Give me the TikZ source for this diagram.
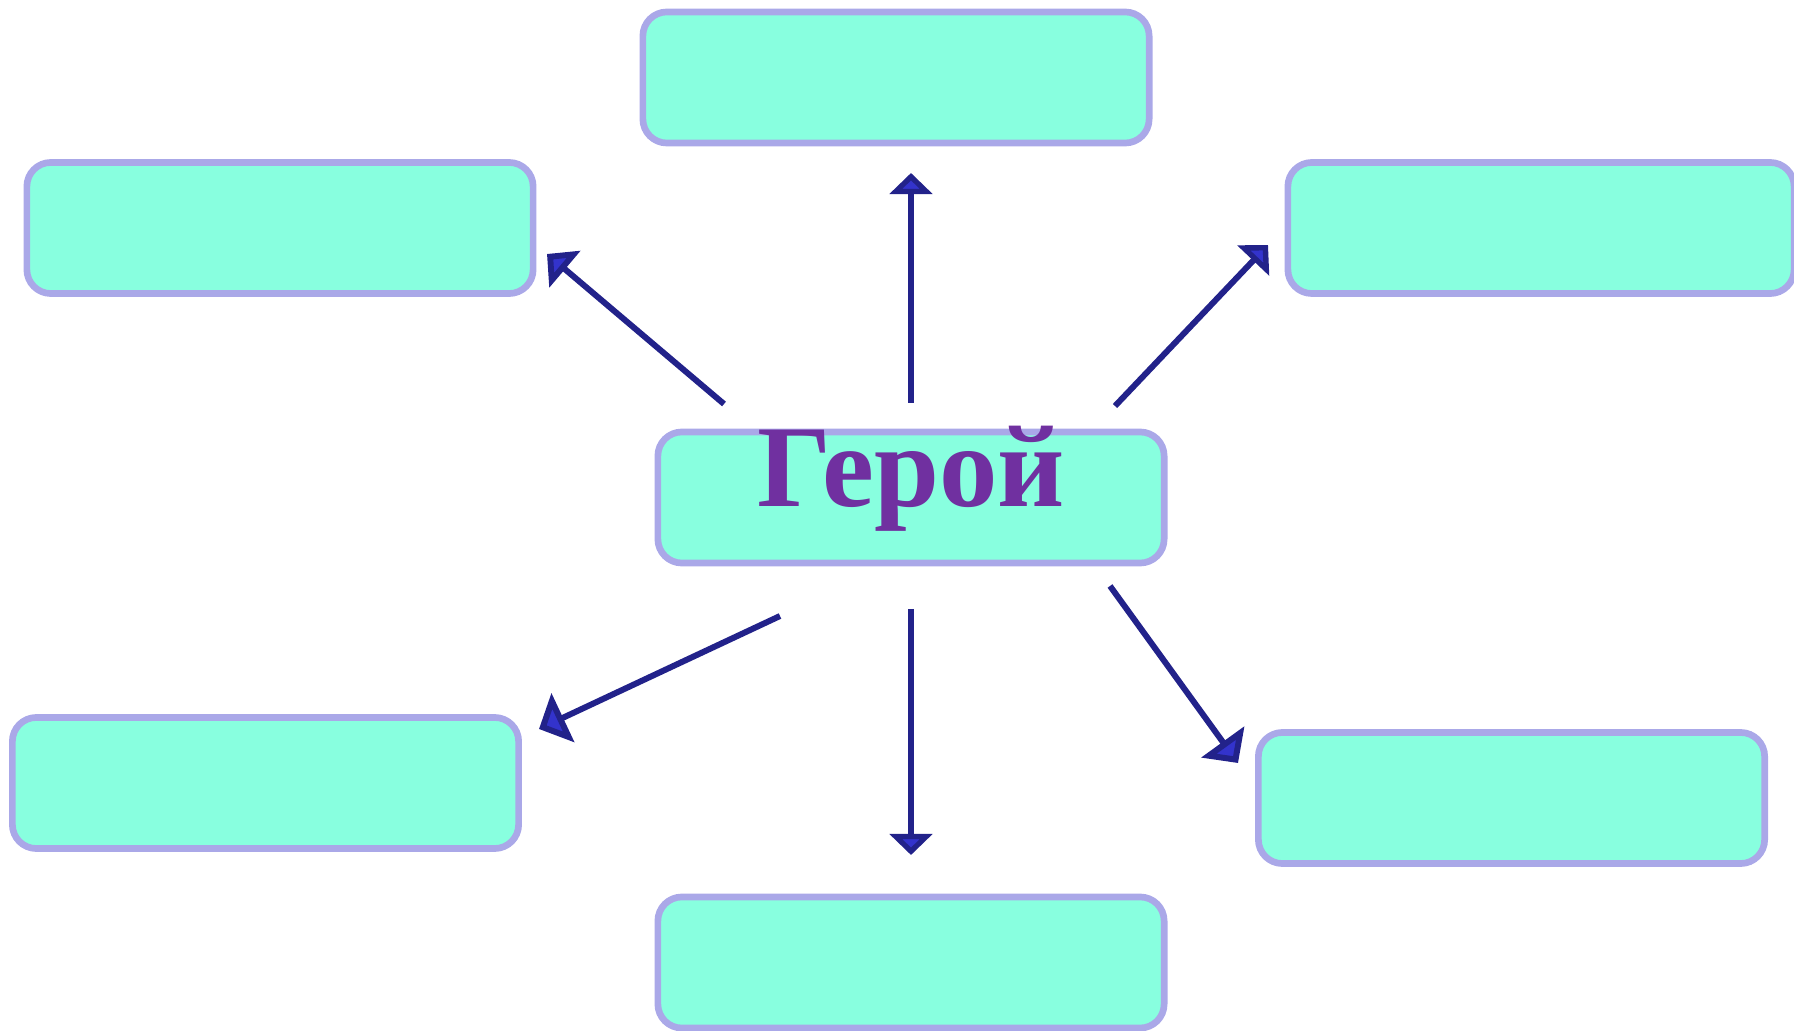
\documentclass[tikz,border=0pt]{standalone}
\usepackage{fontspec}
\setmainfont{Liberation Serif}
\usetikzlibrary{arrows.meta}
\definecolor{boxfill}{HTML}{88FFDF}
\definecolor{boxborder}{HTML}{AAA8E8}
\definecolor{txt}{HTML}{7030A0}
\definecolor{arrline}{HTML}{22228A}
\definecolor{tipfill}{HTML}{3333CC}
\tikzset{
  box/.style={draw=boxborder, line width=1.9pt, fill=boxfill, rounded corners=0.24cm,
    minimum width=5.06cm, minimum height=1.31cm, inner sep=0pt},
  conn/.style={draw=arrline, line width=1.7pt,
    -{Triangle[width=#1,length=#1/2,fill=tipfill]}},
  conn/.default=0.42cm,
  title/.style={text=txt, font=\bfseries\fontsize{33.2pt}{36pt}\selectfont, anchor=base, inner sep=0pt}
}
\begin{document}
\begin{tikzpicture}[x=0.01cm,y=-0.01cm]
\useasboundingbox (0,0) rectangle (1794,1031);
% boxes
\node[box] (top) at (896,77.5) {};
\node[box] (lu) at (280,228) {};
\node[box] (ru) at (1541,228) {};
\node[box] (center) at (911,497.5) {};
\node[box] (ll) at (265.5,783) {};
\node[box] (bottom) at (911,962.5) {};
\node[box] (rl) at (1511.5,798) {};
\node[title] (hero) at (911,507) {Герой};
% arrow end points
\coordinate (s1) at (911,403);  \coordinate (e1) at (911,173);
\coordinate (s2) at (724,404);  \coordinate (e2) at (547,254);
\coordinate (s3) at (1115,406); \coordinate (e3) at (1268,245);
\coordinate (s4) at (780,616);  \coordinate (e4) at (539,729);
\coordinate (s5) at (911,609);  \coordinate (e5) at (911,855);
\coordinate (s6) at (1110,586); \coordinate (e6) at (1238,763);
\draw[conn] (s1) -- (e1);
\draw[conn=0.47cm] (s2) -- (e2);
\draw[conn=0.43cm] (s3) -- (e3);
\draw[conn=0.53cm] (s4) -- (e4);
\draw[conn] (s5) -- (e5);
\draw[conn=0.52cm] (s6) -- (e6);
\end{tikzpicture}
\end{document}
